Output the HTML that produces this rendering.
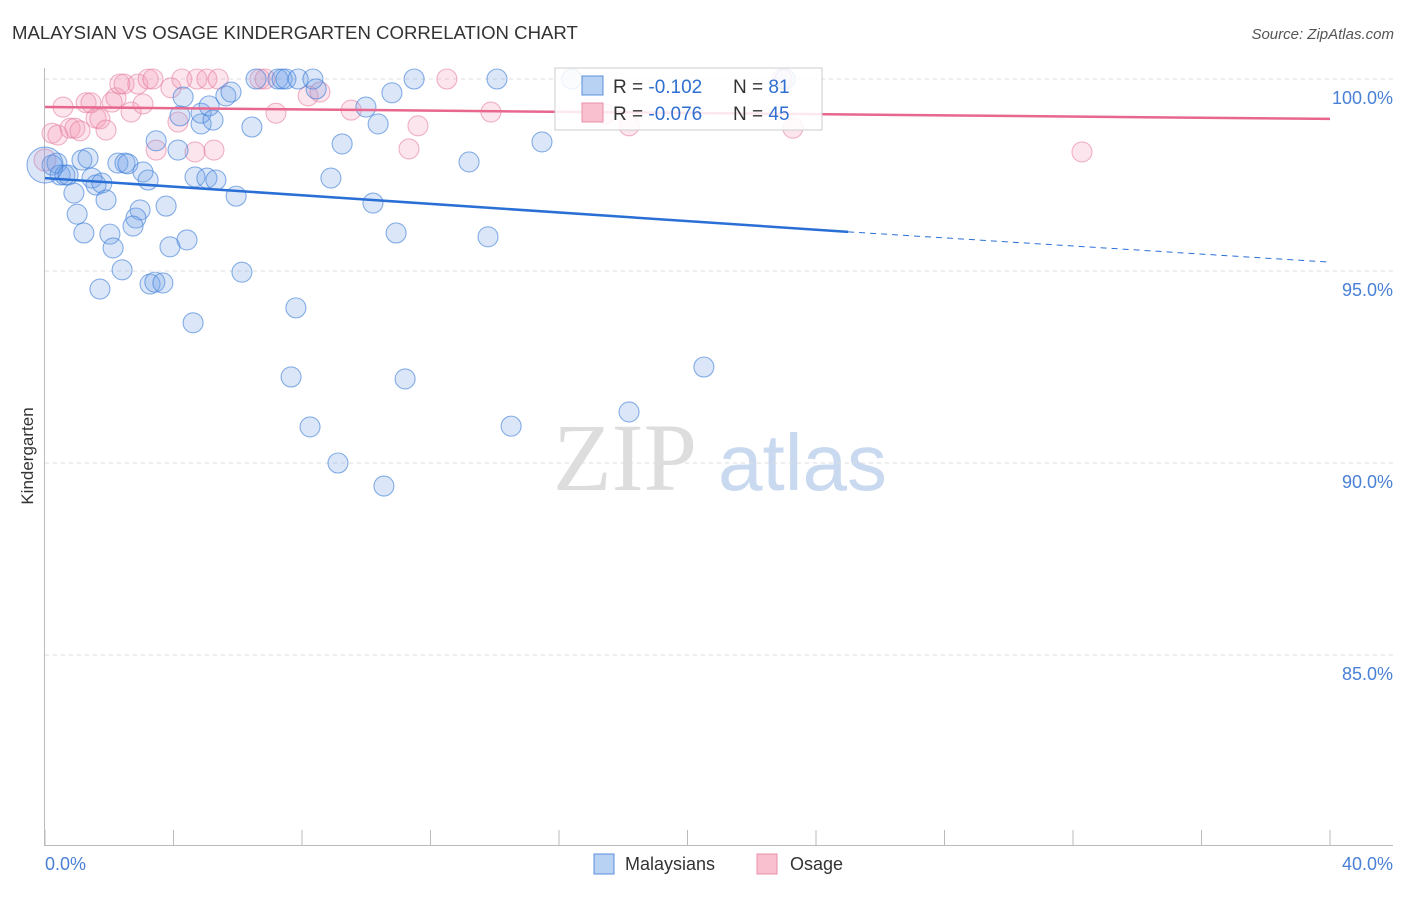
<!DOCTYPE html>
<html><head><meta charset="utf-8"><style>
body{margin:0;background:#fff;width:1406px;height:892px;overflow:hidden;font-family:"Liberation Sans",sans-serif;}
</style></head><body>
<svg id="chart" width="1406" height="892" xmlns="http://www.w3.org/2000/svg">
<text x="12" y="39" font-size="18.6" fill="#333" font-family="Liberation Sans">MALAYSIAN VS OSAGE KINDERGARTEN CORRELATION CHART</text>
<text x="1394" y="39" font-size="15" fill="#555" text-anchor="end" font-style="italic">Source: ZipAtlas.com</text>
<text x="553" y="490" font-size="96" fill="#ddd" font-family="Liberation Serif">ZIP</text>
<text x="718" y="490" font-size="80" fill="#c9d9f0">atlas</text>
<text transform="translate(33,456) rotate(-90)" font-size="17" fill="#333" text-anchor="middle">Kindergarten</text>
<g id="grid"></g><g id="marks"></g>
<g>
<rect x="555" y="68" width="267" height="62" fill="#fff" fill-opacity="0.85" stroke="#ccc"/>
<rect x="582" y="76" width="21" height="19" fill="#b8d2f4" stroke="#5a90da"/>
<rect x="582" y="103" width="21" height="19" fill="#f9c0d0" stroke="#e890aa"/>
<text x="613" y="93" font-size="19" fill="#333">R = <tspan fill="#2f6fd0">-0.102</tspan></text>
<text x="733" y="93" font-size="19" fill="#333">N = <tspan fill="#2f6fd0">81</tspan></text>
<text x="613" y="120" font-size="19" fill="#333">R = <tspan fill="#2f6fd0">-0.076</tspan></text>
<text x="733" y="120" font-size="19" fill="#333">N = <tspan fill="#2f6fd0">45</tspan></text>
</g>
<g>
<rect x="594" y="854" width="20" height="20" fill="#b8d2f4" stroke="#5a90da"/>
<text x="625" y="870" font-size="18" fill="#333">Malaysians</text>
<rect x="757" y="854" width="20" height="20" fill="#f9c0d0" stroke="#e890aa"/>
<text x="790" y="870" font-size="18" fill="#333">Osage</text>
</g>
</svg>
<script>
const yTicks=[100,95,90,85];
const yTickLabels=["100.0%","95.0%","90.0%","85.0%"];
const xTickCount=10;
const xLabels=["0.0%","40.0%"];
const blueX=[0.22,0.37,0.47,0.62,0.72,1.15,1.34,1.46,1.59,1.77,0.90,1.00,1.21,1.71,1.90,2.02,2.12,2.40,2.27,2.49,2.58,3.05,3.21,2.96,2.83,2.74,3.27,3.42,3.67,3.46,3.77,3.89,4.14,4.20,4.30,4.42,4.61,4.67,4.86,4.86,5.04,5.11,5.23,5.32,5.63,5.79,5.95,6.13,6.44,6.57,7.25,7.38,7.50,7.88,8.34,8.44,7.81,7.66,8.25,8.90,9.25,9.12,9.99,10.21,10.37,10.55,10.80,10.93,11.21,11.49,13.20,13.79,14.07,14.51,15.47,16.40,18.18,20.51,23.04,0];
const blueY=[97.76,97.81,97.50,97.50,97.50,97.89,97.94,97.42,97.24,97.29,97.03,96.48,95.99,94.53,96.85,95.96,95.60,95.03,97.81,97.81,97.79,97.58,97.37,96.59,96.38,96.17,94.66,94.71,94.69,98.39,96.69,95.63,98.15,99.04,99.53,95.81,93.65,97.45,98.83,99.11,97.42,99.30,98.93,97.37,99.56,99.66,96.95,94.97,98.75,100,100,100,100,100,100,99.74,94.04,92.24,90.94,97.42,98.31,90.0,99.27,96.77,98.83,89.40,99.64,95.99,92.19,100,97.84,95.89,100,90.96,98.36,100,91.33,92.50,100,97.76];
const pinkX=[0.22,0.40,0.56,0.78,0.93,1.09,1.28,1.43,1.59,1.71,1.90,2.09,2.21,2.33,2.46,2.68,3.05,2.89,3.21,3.36,3.46,3.92,4.14,4.26,4.67,4.73,5.04,5.26,5.39,6.69,6.85,7.19,8.19,8.56,9.53,11.33,11.61,12.51,13.88,17.43,18.18,22.94,23.28,32.28,0];
const pinkY=[98.59,98.54,99.27,98.72,98.72,98.65,99.38,99.38,98.98,98.96,98.67,99.40,99.51,99.87,99.87,99.14,99.35,99.87,100,100,98.15,99.77,98.88,100,98.10,100,100,98.15,100,100,100,99.11,99.56,99.66,99.19,98.18,98.78,100,99.14,99.09,98.78,100,98.72,98.10,97.89];
const blueTrend=[97.42,96.02,95.23];
const blueTrendX=[0,25,40];
const pinkTrend=[99.27,98.96];
const pinkTrendX=[0,40];
const NS="http://www.w3.org/2000/svg";
const X=v=>45+v*32.125, Y=v=>79+(100-v)*38.4;
function mk(t,a,p){const e=document.createElementNS(NS,t);for(const k in a)e.setAttribute(k,a[k]);p.appendChild(e);return e;}
const grid=document.getElementById('grid'), marks=document.getElementById('marks');
yTicks.forEach((t,i)=>{
 const l=mk('line',{x1:45,x2:1393,y1:Y(t),y2:Y(t),stroke:'#ddd','stroke-dasharray':'4,4'},grid);
 
 
 const tx=mk('text',{x:1393,y:Y(t)+25,'font-size':18,fill:'#4a80d6','text-anchor':'end'},grid);tx.textContent=yTickLabels[i];
 
 
});
const ax=mk('path',{d:'M44.5 68V845.5H1393',stroke:'#bbb',fill:'none'},grid);


for(let i=0;i<=xTickCount;i++){const x=X(i*4);const t=mk('line',{x1:x,x2:x,y1:830,y2:845,stroke:'#bbb'},grid);
 
 }
[[0,'start',45],[1,'end',1393]].forEach(([i,a,x])=>{const t=mk('text',{x:x,y:870,'font-size':18,fill:'#4a80d6','text-anchor':a},grid);t.textContent=xLabels[i];
 
 });
pinkX.forEach((x,i)=>{const c=mk('circle',{cx:X(x),cy:Y(pinkY[i]),r:i===pinkX.length-1?11:10,fill:'rgba(242,150,180,0.25)',stroke:'rgba(228,120,155,0.55)','stroke-width':1.1},marks);
 
 });
blueX.forEach((x,i)=>{const c=mk('circle',{cx:X(x),cy:Y(blueY[i]),r:i===blueX.length-1?18:10,fill:'rgba(110,160,230,0.25)',stroke:'rgba(60,125,215,0.6)','stroke-width':1.1},marks);
 
 });
const bt=mk('line',{x1:X(blueTrendX[0]),y1:Y(blueTrend[0]),x2:X(blueTrendX[1]),y2:Y(blueTrend[1]),stroke:'#2a6fd6','stroke-width':2.5},marks);


const bd=mk('line',{x1:X(blueTrendX[1]),y1:Y(blueTrend[1]),x2:X(blueTrendX[2]),y2:Y(blueTrend[2]),stroke:'#2a6fd6','stroke-width':1,'stroke-dasharray':'6,5'},marks);


const pt=mk('line',{x1:X(pinkTrendX[0]),y1:Y(pinkTrend[0]),x2:X(pinkTrendX[1]),y2:Y(pinkTrend[1]),stroke:'#e8678f','stroke-width':2.5},marks);


</script>
</body></html>
